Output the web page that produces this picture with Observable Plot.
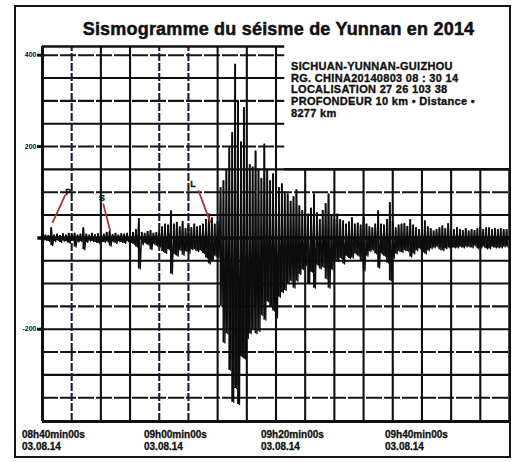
<!DOCTYPE html>
<html><head><meta charset="utf-8">
<script src="https://cdn.jsdelivr.net/npm/d3@7"></script>
<script src="https://cdn.jsdelivr.net/npm/@observablehq/plot@0.6"></script>
<style>
body{margin:0;background:#fff;}
#wrap{position:relative;width:515px;height:462px;overflow:hidden;font-family:"Liberation Sans",Arial,sans-serif;color:#111;}
#border{position:absolute;left:14px;top:5px;width:493px;height:449px;border:2px solid #151515;}
#chart{position:absolute;left:0;top:0;}
#title{position:absolute;left:20px;width:517px;top:19px;line-height:20px;text-align:center;font-weight:bold;font-size:18px;letter-spacing:0.2px;white-space:nowrap;-webkit-text-stroke:0.5px #111;}
#info{position:absolute;left:291px;top:61px;font-weight:bold;font-size:11px;line-height:11.7px;letter-spacing:0.3px;white-space:pre;-webkit-text-stroke:0.35px #111;}
.stamp{position:absolute;top:429px;font-weight:bold;font-size:10px;line-height:12px;white-space:pre;-webkit-text-stroke:0.3px #111;}
</style></head><body>
<div id="wrap">
  <div id="border"></div>
  <div id="chart"></div>
  <div id="title"></div>
  <div id="info"></div>
</div>
<script>
// ---- data ----
const titleText = "Sismogramme du séisme de Yunnan en 2014";
const infoLines = [
  "SICHUAN-YUNNAN-GUIZHOU",
  "RG. CHINA20140803 08 : 30 14",
  "LOCALISATION 27 26 103 38",
  "PROFONDEUR 10 km • Distance •",
  "8277 km"
];
const stampTimes = ["08h40min00s", "09h00min00s", "09h20min00s", "09h40min00s"];
const stampDates = ["03.08.14", "03.08.14", "03.08.14", "03.08.14"];
const stampLeft = [22, 144, 261, 385];

// amplitude axis labels
const yLabels = [400, 200, -200];
const gridLevels = [400, 350, 300, 250, 200, 150, 100, 50, 0, -50, -100, -150, -200, -250, -300, -350];
const dashedLevels = [400, 300, 200, 100, -150, -250, -350];
const gridTimes = [5, 10, 15, 20, 25, 30, 35, 40, 45, 50, 55, 60, 65, 70, 75];
const dashedTimes = [5, 20, 25];
const yMin = -402, yMax = 419;
const tMax = 80;
const notchT = 41.5;      // right block of the grid starts below this level
const notchLevel = 150;

// seismogram envelope sampled every 0.5 min (minutes after 08h40)
const sampleStep = 0.5;
const tops = [
  5,6,5,22,6,8,5,9,6,10,
  7,10,6,8,22,8,6,10,7,9,
  6,8,12,14,7,10,6,9,8,10,
  7,12,18,42,12,10,14,16,10,12,
  16,24,30,28,59,30,34,24,36,20,
  28,22,30,24,26,30,40,52,44,30,
  36,110,125,150,197,230,380,300,210,285,
  150,160,155,190,150,130,205,150,125,140,
  140,110,118,100,96,80,90,105,70,60,
  50,52,65,96,55,40,60,75,96,50,
  40,52,40,37,30,35,44,30,32,28,
  44,30,24,22,30,59,30,28,40,77,
  35,22,28,30,31,25,40,28,22,18,
  25,37,24,20,15,18,22,26,20,31,
  20,18,22,18,16,20,15,18,16,20,
  22,18,22,22,18,20,18,20,18,18
];
const bottoms = [
  -5,-6,-8,-17,-8,-6,-10,-7,-8,-12,
  -6,-20,-9,-8,-26,-10,-7,-8,-10,-12,
  -8,-10,-9,-18,-9,-12,-8,-10,-12,-8,
  -10,-14,-20,-68,-15,-12,-16,-26,-14,-18,
  -20,-30,-34,-26,-79,-36,-40,-28,-38,-30,
  -34,-26,-26,-30,-28,-34,-44,-57,-50,-40,
  -44,-150,-230,-210,-290,-360,-330,-365,-260,-265,
  -220,-210,-200,-210,-205,-170,-180,-140,-150,-160,
  -175,-130,-120,-115,-100,-95,-110,-95,-80,-70,
  -60,-100,-75,-110,-60,-68,-65,-90,-110,-70,
  -50,-52,-45,-57,-40,-45,-44,-35,-40,-50,
  -72,-40,-30,-28,-35,-66,-35,-40,-55,-94,
  -45,-35,-30,-32,-28,-30,-42,-35,-28,-24,
  -30,-35,-28,-24,-22,-20,-26,-28,-24,-22,
  -20,-22,-22,-20,-22,-20,-20,-22,-18,-24,
  -22,-20,-24,-24,-20,-22,-22,-22,-20,-20
];

// phase annotations (P, S, L waves)
const phaseNames = ["P", "S", "L"];
const phaseLabelT = [4.4, 10.2, 25.8];
const phaseLabelV = [100, 88, 117];
const phaseFromT = [3.9, 10.4, 26.7];
const phaseFromV = [94, 75, 104];
const phaseToT = [1.7, 11.6, 28.8];
const phaseToV = [33, 15, 33];

// ---- build ----
document.getElementById("title").textContent = titleText;
document.getElementById("info").textContent = infoLines.join("\n");
const wrap = document.getElementById("wrap");
stampTimes.forEach((s, i) => {
  const d = document.createElement("div");
  d.className = "stamp";
  d.style.left = stampLeft[i] + "px";
  d.textContent = s + "\n" + stampDates[i];
  wrap.appendChild(d);
});

const samples = tops.map((hi, i) => ({t: i * sampleStep, hi, lo: bottoms[i]}));
const zig = samples.flatMap(d => [{t: d.t, v: d.hi}, {t: d.t + sampleStep / 2, v: d.lo}]);
const phases = phaseNames.map((name, i) => ({
  name, lt: phaseLabelT[i], lv: phaseLabelV[i],
  t1: phaseFromT[i], v1: phaseFromV[i], t2: phaseToT[i], v2: phaseToV[i]
}));

const hx2 = v => v > notchLevel ? notchT : tMax;
const vy2 = t => t > notchT ? notchLevel : yMax;
const solidLevels = gridLevels.filter(v => !dashedLevels.includes(v));
const solidTimes = gridTimes.filter(t => !dashedTimes.includes(t));

const chart = Plot.plot({
  width: 515, height: 462,
  marginLeft: 42, marginRight: 6, marginTop: 46, marginBottom: 41,
  x: {domain: [0, tMax], axis: null},
  y: {domain: [yMin, yMax]},
  style: {background: "transparent", fontFamily: "Liberation Sans, Arial, sans-serif", color: "#111"},
  marks: [
    Plot.ruleY(solidLevels, {y: d => d, x1: 0, x2: hx2, stroke: "#0f0f0f", strokeWidth: 2.1}),
    Plot.ruleY(dashedLevels, {y: d => d, x1: 0, x2: hx2, stroke: "#151518", strokeWidth: 2.1, strokeDasharray: "16,2"}),
    Plot.ruleX(solidTimes, {x: d => d, y1: yMin, y2: vy2, stroke: "#0f0f0f", strokeWidth: 2.1}),
    Plot.ruleX(dashedTimes, {x: d => d, y1: yMin, y2: vy2, stroke: "#1c1c30", strokeWidth: 2.1, strokeDasharray: "8,2"}),
    // frame
    Plot.ruleX([0], {y1: yMin, y2: yMax, stroke: "#111", strokeWidth: 3}),
    Plot.ruleX([tMax], {y1: yMin, y2: notchLevel, stroke: "#111", strokeWidth: 2.5}),
    Plot.ruleY([yMin], {x1: 0, x2: tMax, stroke: "#111", strokeWidth: 3}),
    Plot.ruleY([yMax], {x1: 0, x2: notchT, stroke: "#111", strokeWidth: 2.5}),
    Plot.ruleY([notchLevel], {x1: notchT, x2: tMax, stroke: "#111", strokeWidth: 2.5}),
    // seismogram trace
    Plot.ruleY([0], {x1: -0.8, x2: tMax, stroke: "#0d0d0d", strokeWidth: 3.5}),
    Plot.ruleX(samples, {x: "t", y1: "lo", y2: "hi", stroke: "#0d0d0d", strokeWidth: 1.9}),
    Plot.line(zig, {x: "t", y: "v", stroke: "#0d0d0d", strokeWidth: 1.3}),
    // phase annotations
    Plot.link(phases, {x1: "t1", y1: "v1", x2: "t2", y2: "v2", stroke: "#a63a32", strokeWidth: 1.8}),
    Plot.text(phases, {x: "lt", y: "lv", text: "name", fontSize: 9, fontWeight: "bold", fill: "#111", stroke: "#111", strokeWidth: 0.3}),
    // amplitude axis
    Plot.axisY(yLabels, {tickSize: 5, tickPadding: 1, fontSize: 7, fontWeight: "bold", tickFormat: d => String(d), strokeWidth: 3, stroke: "#111", fill: "#111"})
  ]
});
document.getElementById("chart").appendChild(chart);
</script>
</body></html>
